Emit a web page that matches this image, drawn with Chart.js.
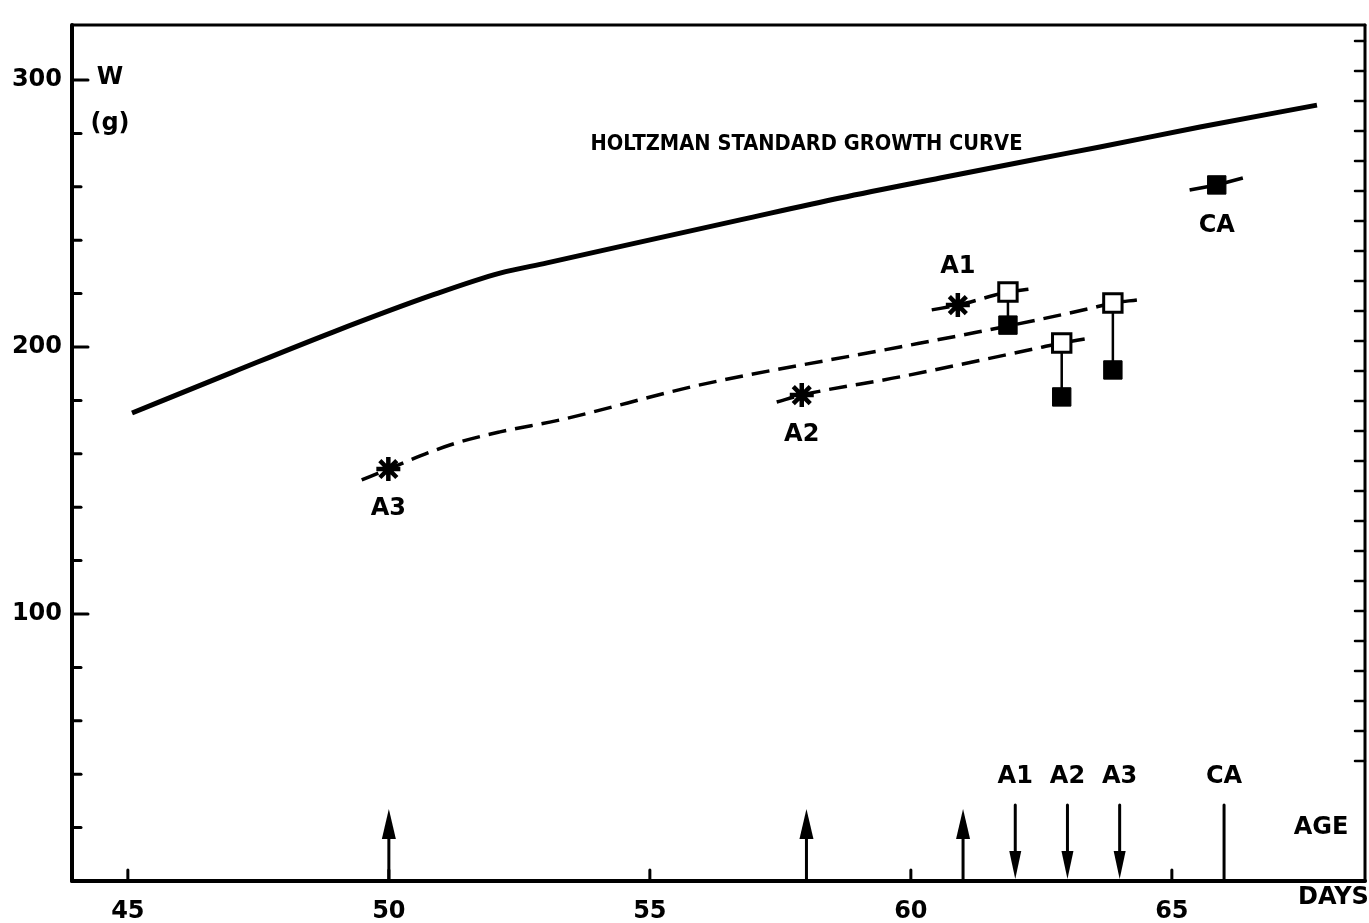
<!DOCTYPE html>
<html lang="en">
<head>
  <meta charset="UTF-8" />
  <title>Body weight vs age</title>
  <script src="https://cdn.jsdelivr.net/npm/chart.js"></script>
  <style>
    body {
      margin: 0;
      background: #fff;
    }
    #wrap {
      width: 1369px;
      height: 923px;
    }
  </style>
</head>
<body>
  <div id="wrap">
    <canvas id="growth" width="1369" height="923"></canvas>
  </div>

  <script>
    // Holtzman standard growth curve (days, grams)
    const holtzDays = [45.08, 47.01, 48.93, 50.84, 52.13, 53.03, 54.81, 56.73, 58.64, 60.56, 62.47, 63.62, 65.54, 67.78];
    const holtzWeights = [175.3, 190.6, 205.6, 219.5, 227.7, 231.5, 239.3, 247.6, 255.8, 263.3, 270.6, 274.9, 282.4, 290.6];

    // dashed growth lines of the operated groups
    const a3Days = [49.48, 49.99, 51.17, 52.13, 53.28, 55.96, 59.79, 61.28, 62.41, 63.47, 63.87, 64.33];
    const a3Weights = [150.2, 154.3, 163.3, 168.2, 172.7, 185.8, 200.0, 205.6, 210.1, 214.6, 216.5, 217.6];
    const a2Days = [57.43, 57.91, 59.79, 62.53, 62.89, 63.33];
    const a2Weights = [179.4, 182.0, 188.8, 200.0, 201.5, 203.0];
    const a1Days = [60.40, 60.90, 61.86, 62.28];
    const a1Weights = [213.9, 215.7, 220.6, 221.7];
    const caDays = [65.34, 65.86, 66.36];
    const caWeights = [258.8, 260.7, 263.3];

    // markers
    const starLabels = ['A3', 'A2', 'A1'];
    const starDays = [49.99, 57.91, 60.90];
    const starWeights = [154.3, 182.0, 215.7];
    const squareDays = [61.86, 62.89, 63.87];
    const openWeights = [220.6, 201.5, 216.5];
    const filledLabels = ['A1', 'A2', 'A3', 'CA'];
    const filledDays = [61.86, 62.89, 63.87, 65.86];
    const filledWeights = [208.2, 181.3, 191.4, 260.7];

    // arrows along the age axis
    const upArrowDays = [50, 58, 61];
    const downArrowDays = [62, 63, 64, 66];
    const downArrowLabels = ['A1', 'A2', 'A3', 'CA'];
    const downArrowHeads = [true, true, true, false];

    // axes
    const xTickValues = [45, 50, 55, 60, 65];
    const yLabelValues = [100, 200, 300];

    const FONT = 'bold 24px "DejaVu Sans", sans-serif';

    function pts(xs, ys) {
      return xs.map((d, i) => ({ x: d, y: ys[i] }));
    }

    const connectors = [];
    squareDays.forEach((d, i) => {
      connectors.push({ x: d, y: openWeights[i] });
      connectors.push({ x: d, y: filledWeights[i] });
      connectors.push({ x: d, y: null });
    });

    const dashed = { borderColor: '#000', borderWidth: 3.5, borderDash: [18, 9], pointRadius: 0,
      showLine: true, cubicInterpolationMode: 'monotone', order: 6 };

    function line(ctx, x1, y1, x2, y2) {
      ctx.beginPath();
      ctx.moveTo(x1, y1);
      ctx.lineTo(x2, y2);
      ctx.stroke();
    }

    const inkPlugin = {
      id: 'ink',
      afterDraw(chart) {
        const { ctx, chartArea: a, scales: { x, y, y2 } } = chart;
        ctx.save();
        ctx.strokeStyle = '#000';
        ctx.fillStyle = '#000';
        ctx.lineCap = 'round';

        // frame
        ctx.lineWidth = 4;
        line(ctx, a.left, a.top, a.left, a.bottom);
        line(ctx, a.left, a.bottom, a.right, a.bottom);
        ctx.lineWidth = 3;
        line(ctx, a.left, a.top, a.right, a.top);
        line(ctx, a.right, a.top, a.right, a.bottom);

        // inward ticks
        y.ticks.forEach(t => {
          if (t.value <= 0 || t.value > 300) return;
          const py = y.getPixelForValue(t.value);
          line(ctx, a.left, py, a.left + (t.value % 100 === 0 ? 16 : 9), py);
        });
        x.ticks.forEach(t => {
          const px = x.getPixelForValue(t.value);
          line(ctx, px, a.bottom, px, a.bottom - 11);
        });
        ctx.lineWidth = 2.5;
        y2.ticks.forEach(t => {
          if (t.value < 4) return;
          const py = y2.getPixelForValue(t.value);
          line(ctx, a.right, py, a.right - 10, py);
        });

        // arrows
        ctx.lineWidth = 3;
        const upTip = y.getPixelForValue(27);
        upArrowDays.forEach(d => {
          const px = x.getPixelForValue(d);
          line(ctx, px, a.bottom, px, upTip + 20);
          ctx.beginPath();
          ctx.moveTo(px, upTip);
          ctx.lineTo(px - 7, upTip + 30);
          ctx.lineTo(px + 7, upTip + 30);
          ctx.closePath();
          ctx.fill();
        });
        const downTop = y.getPixelForValue(28.5);
        ctx.font = FONT;
        ctx.textAlign = 'center';
        ctx.textBaseline = 'middle';
        downArrowDays.forEach((d, i) => {
          const px = x.getPixelForValue(d);
          const tip = a.bottom - 2;
          line(ctx, px, downTop, px, downArrowHeads[i] ? tip - 20 : tip);
          if (downArrowHeads[i]) {
            ctx.beginPath();
            ctx.moveTo(px, tip);
            ctx.lineTo(px - 6, tip - 28);
            ctx.lineTo(px + 6, tip - 28);
            ctx.closePath();
            ctx.fill();
          }
          ctx.fillText(downArrowLabels[i], px, downTop - 28);
        });

        // marker labels
        const starMeta = chart.getDatasetMeta(chart.data.datasets.findIndex(ds => ds.id === 'stars'));
        starMeta.data.forEach((p, i) => {
          const dy = starLabels[i] === 'A1' ? -38 : 40;
          ctx.fillText(starLabels[i], p.x, p.y + dy);
        });
        const filledMeta = chart.getDatasetMeta(chart.data.datasets.findIndex(ds => ds.id === 'filled'));
        filledMeta.data.forEach((p, i) => {
          if (filledLabels[i] === 'CA') ctx.fillText('CA', p.x, p.y + 41);
        });

        // axis titles
        const y300 = y.getPixelForValue(300);
        ctx.fillText('W', a.left + 38, y300 - 2);
        ctx.fillText('(g)', a.left + 38, y300 + 44);
        ctx.fillText('AGE', a.right - 44, a.bottom - 53);
        ctx.textAlign = 'left';
        ctx.fillText('DAYS', a.right - 67, a.bottom + 17);

        // curve caption, condensed to the width it has in the figure
        const caption = 'HOLTZMAN STANDARD GROWTH CURVE';
        ctx.font = 'bold 21px "DejaVu Sans", sans-serif';
        const w = ctx.measureText(caption).width;
        const cx = x.getPixelForValue(58);
        const cy = y.getPixelForValue(275.7);
        ctx.translate(cx, cy);
        ctx.scale(432 / w, 1);
        ctx.textAlign = 'center';
        ctx.fillText(caption, 0, 0);
        ctx.restore();
      }
    };

    new Chart(document.getElementById('growth'), {
      type: 'scatter',
      data: {
        datasets: [
          { id: 'holtz', data: pts(holtzDays, holtzWeights), showLine: true, borderColor: '#000', borderWidth: 5,
            pointRadius: 0, cubicInterpolationMode: 'monotone', order: 7 },
          Object.assign({ id: 'a3', data: pts(a3Days, a3Weights) }, dashed),
          Object.assign({ id: 'a2', data: pts(a2Days, a2Weights) }, dashed),
          Object.assign({ id: 'a1', data: pts(a1Days, a1Weights) }, dashed),
          { id: 'ca', data: pts(caDays, caWeights), showLine: true, borderColor: '#000', borderWidth: 3.5,
            pointRadius: 0, order: 6 },
          { id: 'conn', data: connectors, showLine: true, spanGaps: false, borderColor: '#000', borderWidth: 2.5,
            pointRadius: 0, order: 5 },
          { id: 'filled', data: pts(filledDays, filledWeights), pointStyle: 'rect', pointRadius: 13,
            backgroundColor: '#000', borderColor: '#000', borderWidth: 1, order: 3 },
          { id: 'open', data: pts(squareDays, openWeights), pointStyle: 'rect', pointRadius: 13,
            backgroundColor: '#fff', borderColor: '#000', borderWidth: 3, order: 2 },
          { id: 'stars', data: pts(starDays, starWeights), pointStyle: 'star', pointRadius: 12,
            borderColor: '#000', borderWidth: 4.5, order: 1 }
        ]
      },
      options: {
        responsive: false,
        animation: false,
        events: [],
        layout: { autoPadding: false, padding: { top: 25, right: 4, left: 0, bottom: 0 } },
        plugins: { legend: { display: false }, tooltip: { enabled: false } },
        scales: {
          x: {
            type: 'linear',
            min: 43.93,
            max: 68.7,
            grid: { display: false, drawTicks: false },
            border: { display: false },
            afterBuildTicks: s => { s.ticks = xTickValues.map(v => ({ value: v })); },
            afterFit: s => { s.height = 42; s.paddingLeft = 0; s.paddingRight = 0; },
            ticks: { color: '#000', font: { family: '"DejaVu Sans"', size: 24, weight: 'bold' }, padding: 16, maxRotation: 0 }
          },
          y: {
            min: 0,
            max: 320.6,
            grid: { display: false, drawTicks: false },
            border: { display: false },
            afterFit: s => { s.width = 72; },
            ticks: {
              stepSize: 20,
              includeBounds: false,
              color: '#000',
              padding: 10,
              font: { family: '"DejaVu Sans"', size: 24, weight: 'bold' },
              callback: v => (yLabelValues.includes(v) ? String(v) : '')
            }
          },
          y2: {
            position: 'right',
            min: 0,
            max: 28.53,
            grid: { display: false, drawTicks: false },
            border: { display: false },
            afterFit: s => { s.width = 0; },
            ticks: { stepSize: 1, display: false, includeBounds: false }
          }
        }
      },
      plugins: [inkPlugin]
    });
  </script>
</body>
</html>
